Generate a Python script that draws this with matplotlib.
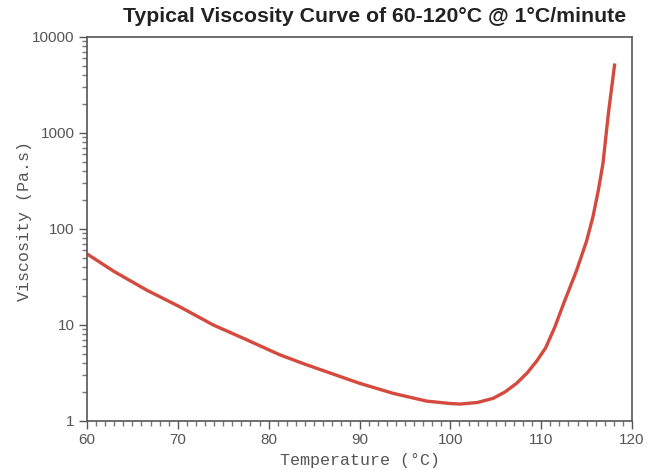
import matplotlib.pyplot as plt
from matplotlib.ticker import MultipleLocator, FixedLocator, LogLocator, NullFormatter

temp = [60, 63, 66.6, 70.2, 73.9, 77.6, 81.2, 84, 86.4, 90, 93.7, 97.4, 100, 101.1,
        103, 104.7, 106, 107.3, 108.5, 109.5, 110.5, 111.5, 112.5, 113.9, 115, 115.7,
        116.3, 116.8, 117.4, 118.1]
visc = [55, 36, 23, 15.5, 10, 7.0, 4.9, 3.9, 3.25, 2.47, 1.94, 1.61, 1.52, 1.5,
        1.56, 1.72, 2.0, 2.47, 3.2, 4.2, 5.8, 9.5, 17, 37, 75, 134,
        255, 480, 1600, 5300]
yticks = [1, 10, 100, 1000, 10000]
ylabels = ['1', '10', '100', '1000', '10000']

fig = plt.figure(figsize=(6.6, 4.7), dpi=100)
ax = fig.add_axes([0.1318, 0.1043, 0.8258, 0.817])

ax.plot(temp, visc, color='#d44a3e', linewidth=2.4, solid_capstyle='butt')

ax.set_yscale('log')
ax.set_xlim(60, 120)
ax.set_ylim(1, 10000)

ax.xaxis.set_major_locator(MultipleLocator(10))
ax.xaxis.set_minor_locator(MultipleLocator(1))
ax.yaxis.set_major_locator(FixedLocator(yticks))
ax.set_yticklabels(ylabels)
ax.yaxis.set_minor_locator(LogLocator(base=10, subs=range(2, 10)))
ax.yaxis.set_minor_formatter(NullFormatter())

for lbl in ax.get_xticklabels() + ax.get_yticklabels():
    lbl.set_fontfamily('Liberation Sans')
    lbl.set_fontsize(11)
    lbl.set_color('#555555')

ax.tick_params(which='major', direction='out', length=6, width=1, color='#555555', pad=3)
ax.tick_params(which='minor', direction='out', length=3.6, width=1, color='#777777')
ax.tick_params(top=False, right=False)

for s in ax.spines.values():
    s.set_color('#555555')
    s.set_linewidth(1.2)

ax.set_xlabel('Temperature (°C)', fontfamily='Liberation Mono', fontsize=12,
              color='#555555', labelpad=4)
ax.set_ylabel('Viscosity (Pa.s)', fontfamily='Liberation Mono', fontsize=12,
              color='#555555', labelpad=1)
ax.yaxis.set_label_coords(-0.1, 0.52)

fig.text(0.568, 0.964, 'Typical Viscosity Curve of 60-120°C @ 1°C/minute',
         ha='center', va='center', fontfamily='Liberation Sans', fontweight='bold',
         fontsize=15.3, color='#222222')

fig.savefig('out.png', dpi=100)
